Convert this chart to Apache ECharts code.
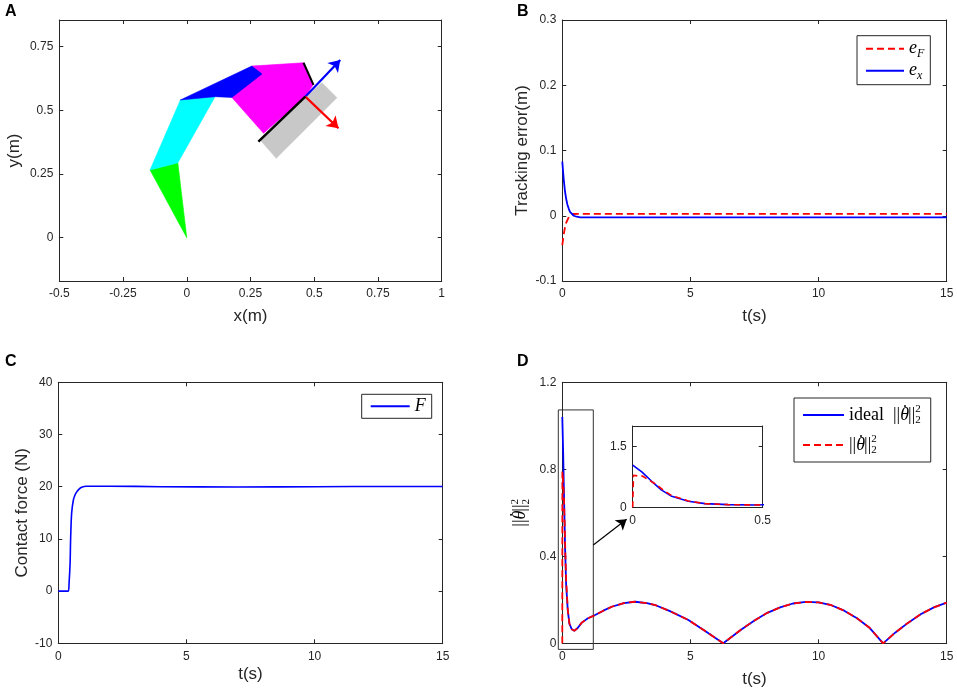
<!DOCTYPE html>
<html><head><meta charset="utf-8">
<script src="https://cdn.jsdelivr.net/npm/echarts@6/dist/echarts.min.js"></script>
<style>html,body{margin:0;padding:0;background:#fff}#c{width:957px;height:690px}</style>
</head><body><div id="c"></div>
<script>
// ---------- Panel A: manipulator geometry (x, y in metres) ----------
const linkGreen   = [[0,0],[-0.144,0.266],[-0.035,0.294]];
const linkCyan    = [[-0.144,0.266],[-0.025,0.541],[0.111,0.554],[-0.035,0.294]];
const linkBlue    = [[-0.025,0.541],[0.255,0.674],[0.295,0.643],[0.177,0.551],[0.111,0.554]];
const linkMagenta = [[0.255,0.674],[0.458,0.687],[0.497,0.603],[0.465,0.554],[0.301,0.410],[0.177,0.551]];
const surfaceBox  = [[0.288,0.384],[0.530,0.609],[0.589,0.550],[0.351,0.312]];
const contactEdge = [[0.281,0.377],[0.465,0.554]];
const lastLink    = [[0.458,0.687],[0.497,0.600]];
const arrowBlue   = [[0.465,0.554],[0.602,0.698]];
const arrowRed    = [[0.465,0.554],[0.595,0.430]];
const aXTicks = [-0.5,-0.25,0,0.25,0.5,0.75,1];
const aYTicks = [0,0.25,0.5,0.75];

// ---------- Panel B: tracking error ----------
const eF_t = [0, 0.05, 0.1, 0.15, 0.23, 0.3, 0.43, 0.6, 15];
const eF_v = [-0.045, -0.03, -0.019, -0.011, -0.004, 0, 0.0027, 0.003, 0.003];
const eX_t = [0, 0.05, 0.1, 0.15, 0.2, 0.25, 0.3, 0.36, 0.45, 0.56, 0.7, 1, 15];
const eX_v = [0.083, 0.058, 0.039, 0.026, 0.017, 0.011, 0.006, 0.003, 0.0, -0.0015, -0.0025, -0.0025, -0.0025];
const tTicks = [0,5,10,15];
const bYTicks = [-0.1,0,0.1,0.2,0.3];

// ---------- Panel C: contact force ----------
const F_t = [0, 0.39, 0.42, 0.46, 0.48, 0.52, 0.59, 0.66, 0.72, 0.8, 0.91, 1.1, 2, 4, 7, 10, 13, 15];
const F_v = [0, 0, 1.5, 5.3, 9.8, 14.9, 17.5, 18.5, 19.0, 19.5, 19.9, 20.1, 20.1, 20.0, 19.95, 20.0, 20.05, 20.05];
const cYTicks = [-10,0,10,20,30,40];

// ---------- Panel D: joint velocity norm ----------
const thI_t = [0, 0.035, 0.073, 0.11, 0.15, 0.214, 0.278, 0.367, 0.47, 0.6, 0.76, 1.0, 1.28, 1.6, 1.93, 2.4, 2.84, 3.3, 3.62, 4.2, 4.92, 5.5, 6.28, 7, 7.5, 8, 8.5, 9, 9.5, 10, 10.5, 11, 11.5, 12, 12.52, 13, 13.5, 14, 14.5, 15];
const thI_v = [1.04, 0.87, 0.64, 0.43, 0.27, 0.15, 0.09, 0.065, 0.058, 0.07, 0.095, 0.115, 0.13, 0.15, 0.168, 0.185, 0.191, 0.185, 0.176, 0.148, 0.107, 0.062, 0.0, 0.065, 0.105, 0.14, 0.165, 0.183, 0.19, 0.188, 0.175, 0.15, 0.115, 0.07, 0.0, 0.05, 0.095, 0.135, 0.165, 0.187];
const thA_t = [0, 0.003, 0.02, 0.037, 0.06, 0.086, 0.125, 0.15, 0.214, 0.278, 0.367, 0.47, 0.6, 0.76, 1.0, 1.28, 1.6, 1.93, 2.4, 2.84, 3.3, 3.62, 4.2, 4.92, 5.5, 6.28, 7, 7.5, 8, 8.5, 9, 9.5, 10, 10.5, 11, 11.5, 12, 12.52, 13, 13.5, 14, 14.5, 15];
const thA_v = [0, 0.79, 0.77, 0.77, 0.68, 0.58, 0.39, 0.29, 0.155, 0.09, 0.065, 0.058, 0.07, 0.095, 0.115, 0.13, 0.15, 0.168, 0.185, 0.191, 0.185, 0.176, 0.148, 0.107, 0.062, 0.0, 0.065, 0.105, 0.14, 0.165, 0.183, 0.19, 0.188, 0.175, 0.15, 0.115, 0.07, 0.0, 0.05, 0.095, 0.135, 0.165, 0.187];
const dYTicks = [0,0.4,0.8,1.2];
const zoomBox = [-0.156, -0.028, 1.21, 1.073];   // t0, v0, t1, v1
const zoomArrow = [[1.21,0.452],[2.51,0.57]];
const insetXTicks = [0,0.5];
const insetYTicks = [0,1.5];

// ---------- helpers ----------
const FONT = 'Liberation Sans, Arial, Helvetica, sans-serif';
const SERIF = 'Liberation Serif, Times New Roman, serif';
const AXC = '#262626';
const BLUE = '#0000ff', RED = '#ff0000';
const zip = (t, v) => t.map((x, i) => [x, v[i]]);

function xAx(grid, min, max, ticks, top, name, gap) {
  return {
    type: 'value', gridIndex: grid, position: top ? 'top' : 'bottom', min, max,
    axisLine: {show: true, onZero: false, lineStyle: {color: AXC, width: 1}},
    axisTick: {show: true, inside: true, length: 4, customValues: ticks, lineStyle: {color: AXC}},
    axisLabel: {show: !top, customValues: ticks, color: AXC, fontSize: 12, fontFamily: FONT, margin: 7},
    splitLine: {show: false},
    name: top ? '' : name, nameLocation: 'middle', nameGap: gap,
    nameTextStyle: {color: AXC, fontSize: 17, fontFamily: FONT}
  };
}
function yAx(grid, min, max, ticks, right, name, gap, nts) {
  return {
    type: 'value', gridIndex: grid, position: right ? 'right' : 'left', min, max,
    axisLine: {show: true, onZero: false, lineStyle: {color: AXC, width: 1}},
    axisTick: {show: true, inside: true, length: 4, customValues: ticks, lineStyle: {color: AXC}},
    axisLabel: {show: !right, customValues: ticks, color: AXC, fontSize: 12, fontFamily: FONT, margin: 6},
    splitLine: {show: false},
    name: right ? '' : name, nameLocation: 'middle', nameGap: gap,
    nameTextStyle: nts || {color: AXC, fontSize: 17, fontFamily: FONT}
  };
}
function poly(points, color) {
  return {
    type: 'custom', xAxisIndex: 0, yAxisIndex: 0, data: points, silent: true,
    renderItem(params, api) {
      if (params.dataIndex !== 0) return null;
      return {type: 'polygon', shape: {points: points.map(p => api.coord(p))},
              style: {fill: color, stroke: color, lineWidth: 0.6}};
    }
  };
}

const RICH = {
  it:   {fontFamily: SERIF, fontStyle: 'italic', fontSize: 18, lineHeight: 22, color: '#000'},
  th:   {fontFamily: SERIF, fontStyle: 'italic', fontSize: 18, lineHeight: 22, color: '#000'},
  dot:  {fontFamily: SERIF, fontSize: 18, lineHeight: 8, verticalAlign: 'top', color: '#000', padding: [0, 0, 0, -7]},
  rm:   {fontFamily: SERIF, fontSize: 18, lineHeight: 22, color: '#000'},
  sub:  {fontFamily: SERIF, fontStyle: 'italic', fontSize: 12, lineHeight: 12, verticalAlign: 'bottom', color: '#000'},
  sup2: {fontFamily: SERIF, fontSize: 11, lineHeight: 11, verticalAlign: 'top', color: '#000'},
  sub2: {fontFamily: SERIF, fontSize: 11, lineHeight: 9, verticalAlign: 'bottom', color: '#000', padding: [0, 0, 0, -5.5]}
};
const NORM = '{rm|||}{th|θ}{dot|˙}{rm|||}{sup2|2}{sub2|2}';
const LABELS = {
  eF: '{it|e}{sub|F}',
  ex: '{it|e}{sub|x}',
  F: '{it|F}',
  ideal: '{rm|ideal  }' + NORM,
  actual: NORM
};
const legendBase = {
  orient: 'vertical', itemHeight: 14, borderColor: AXC, borderWidth: 1, backgroundColor: '#fff',
  selectedMode: false, formatter: n => LABELS[n], textStyle: {rich: RICH},
  itemStyle: {opacity: 0}
};

const chart = echarts.init(document.getElementById('c'), null, {renderer: 'canvas'});
chart.setOption({
  animation: false,
  backgroundColor: '#fff',
  grid: [
    {left: 59.3, top: 20, width: 382.4, height: 261},
    {left: 562.3, top: 20, width: 384.4, height: 261},
    {left: 58.3, top: 382.3, width: 384.4, height: 261},
    {left: 562.3, top: 382.3, width: 384.4, height: 261},
    {left: 632.7, top: 426, width: 130, height: 81.3}
  ],
  xAxis: [
    xAx(0, -0.5, 1, aXTicks, false, 'x(m)', 27), xAx(0, -0.5, 1, aXTicks, true),
    xAx(1, 0, 15, tTicks, false, 't(s)', 27), xAx(1, 0, 15, tTicks, true),
    xAx(2, 0, 15, tTicks, false, 't(s)', 23), xAx(2, 0, 15, tTicks, true),
    xAx(3, 0, 15, tTicks, false, 't(s)', 28), xAx(3, 0, 15, tTicks, true),
    xAx(4, 0, 0.5, insetXTicks, false, '', 0), xAx(4, 0, 0.5, insetXTicks, true)
  ],
  yAxis: [
    yAx(0, -0.17, 0.855, aYTicks, false, 'y(m)', 36), yAx(0, -0.17, 0.855, aYTicks, true),
    yAx(1, -0.1, 0.3, bYTicks, false, 'Tracking error(m)', 31), yAx(1, -0.1, 0.3, bYTicks, true),
    yAx(2, -10, 40, cYTicks, false, 'Contact force (N)', 27), yAx(2, -10, 40, cYTicks, true),
    yAx(3, 0, 1.2, dYTicks, false, NORM, 31, {color: AXC, rich: RICH}), yAx(3, 0, 1.2, dYTicks, true),
    yAx(4, 0, 2, insetYTicks, false, '', 0), yAx(4, 0, 2, insetYTicks, true)
  ],
  legend: [
    Object.assign({}, legendBase, {data: ['eF', 'ex'], left: 857, top: 35.7, itemWidth: 38, itemGap: 2, padding: [4, 6, 3, 8]}),
    Object.assign({}, legendBase, {data: ['F'], left: 361.7, top: 394.3, itemWidth: 39, itemGap: 2, padding: [3, 6, 3, 8]}),
    Object.assign({}, legendBase, {data: ['ideal', 'actual'], left: 794, top: 398, itemWidth: 41, itemGap: 8, padding: [6, 10, 6, 8]})
  ],
  graphic: [
    {type: 'text', left: 5, top: 4, style: {text: 'A', font: 'bold 16px ' + FONT, fill: '#000'}},
    {type: 'text', left: 517, top: 4, style: {text: 'B', font: 'bold 16px ' + FONT, fill: '#000'}},
    {type: 'text', left: 5, top: 354, style: {text: 'C', font: 'bold 16px ' + FONT, fill: '#000'}},
    {type: 'text', left: 517, top: 354, style: {text: 'D', font: 'bold 16px ' + FONT, fill: '#000'}}
  ],
  series: [
    // Panel A
    poly(linkGreen, '#00ff00'),
    poly(linkCyan, '#00ffff'),
    poly(surfaceBox, '#c8c8c8'),
    poly(linkMagenta, '#ff00ff'),
    poly(linkBlue, '#0000ff'),
    {type: 'line', xAxisIndex: 0, yAxisIndex: 0, data: contactEdge, symbol: 'none', lineStyle: {color: '#000', width: 2.5}, silent: true},
    {type: 'line', xAxisIndex: 0, yAxisIndex: 0, data: lastLink, symbol: 'none', lineStyle: {color: '#000', width: 2}, silent: true},
    {type: 'lines', coordinateSystem: 'cartesian2d', xAxisIndex: 0, yAxisIndex: 0, symbol: ['none', 'arrow'], symbolSize: 11,
     lineStyle: {color: '#0000ff', width: 2.2, opacity: 1}, data: [{coords: arrowBlue}], silent: true},
    {type: 'lines', coordinateSystem: 'cartesian2d', xAxisIndex: 0, yAxisIndex: 0, symbol: ['none', 'arrow'], symbolSize: 11,
     lineStyle: {color: '#ff0000', width: 2.2, opacity: 1}, data: [{coords: arrowRed}], silent: true},
    // Panel B
    {name: 'eF', type: 'line', xAxisIndex: 2, yAxisIndex: 2, data: zip(eF_t, eF_v), symbol: 'none', showSymbol: false,
     lineStyle: {color: RED, width: 1.8, type: [7, 4]}, itemStyle: {color: RED}},
    {name: 'ex', type: 'line', xAxisIndex: 2, yAxisIndex: 2, data: zip(eX_t, eX_v), symbol: 'none', showSymbol: false,
     lineStyle: {color: BLUE, width: 1.8}, itemStyle: {color: BLUE}},
    // Panel C
    {name: 'F', type: 'line', xAxisIndex: 4, yAxisIndex: 4, data: zip(F_t, F_v), symbol: 'none', showSymbol: false, smooth: 0.3,
     lineStyle: {color: BLUE, width: 1.6}, itemStyle: {color: BLUE}},
    // Panel D
    {name: 'ideal', type: 'line', xAxisIndex: 6, yAxisIndex: 6, data: zip(thI_t, thI_v), symbol: 'none', showSymbol: false,
     lineStyle: {color: BLUE, width: 1.8}, itemStyle: {color: BLUE}},
    {name: 'actual', type: 'line', xAxisIndex: 6, yAxisIndex: 6, data: zip(thA_t, thA_v), symbol: 'none', showSymbol: false,
     lineStyle: {color: RED, width: 1.8, type: [7, 4]}, itemStyle: {color: RED}},
    {type: 'custom', xAxisIndex: 6, yAxisIndex: 6, clip: false, silent: true, data: [zoomBox],
     renderItem(params, api) {
       const p0 = api.coord([zoomBox[0], zoomBox[3]]);
       const p1 = api.coord([zoomBox[2], zoomBox[1]]);
       return {type: 'rect', shape: {x: p0[0], y: p0[1], width: p1[0] - p0[0], height: p1[1] - p0[1]},
               style: {fill: 'none', stroke: '#333', lineWidth: 1}};
     }},
    {type: 'lines', coordinateSystem: 'cartesian2d', xAxisIndex: 6, yAxisIndex: 6, symbol: ['none', 'arrow'], symbolSize: 10,
     lineStyle: {color: '#000', width: 1.2, opacity: 1}, data: [{coords: zoomArrow}], silent: true},
    // Inset
    {name: 'ideal (inset)', type: 'line', xAxisIndex: 8, yAxisIndex: 8, data: zip(thI_t, thI_v), symbol: 'none', showSymbol: false,
     lineStyle: {color: BLUE, width: 1.6}},
    {name: 'actual (inset)', type: 'line', xAxisIndex: 8, yAxisIndex: 8, data: zip(thA_t, thA_v), symbol: 'none', showSymbol: false,
     lineStyle: {color: RED, width: 1.6, type: [6, 4]}}
  ]
});
</script></body></html>
